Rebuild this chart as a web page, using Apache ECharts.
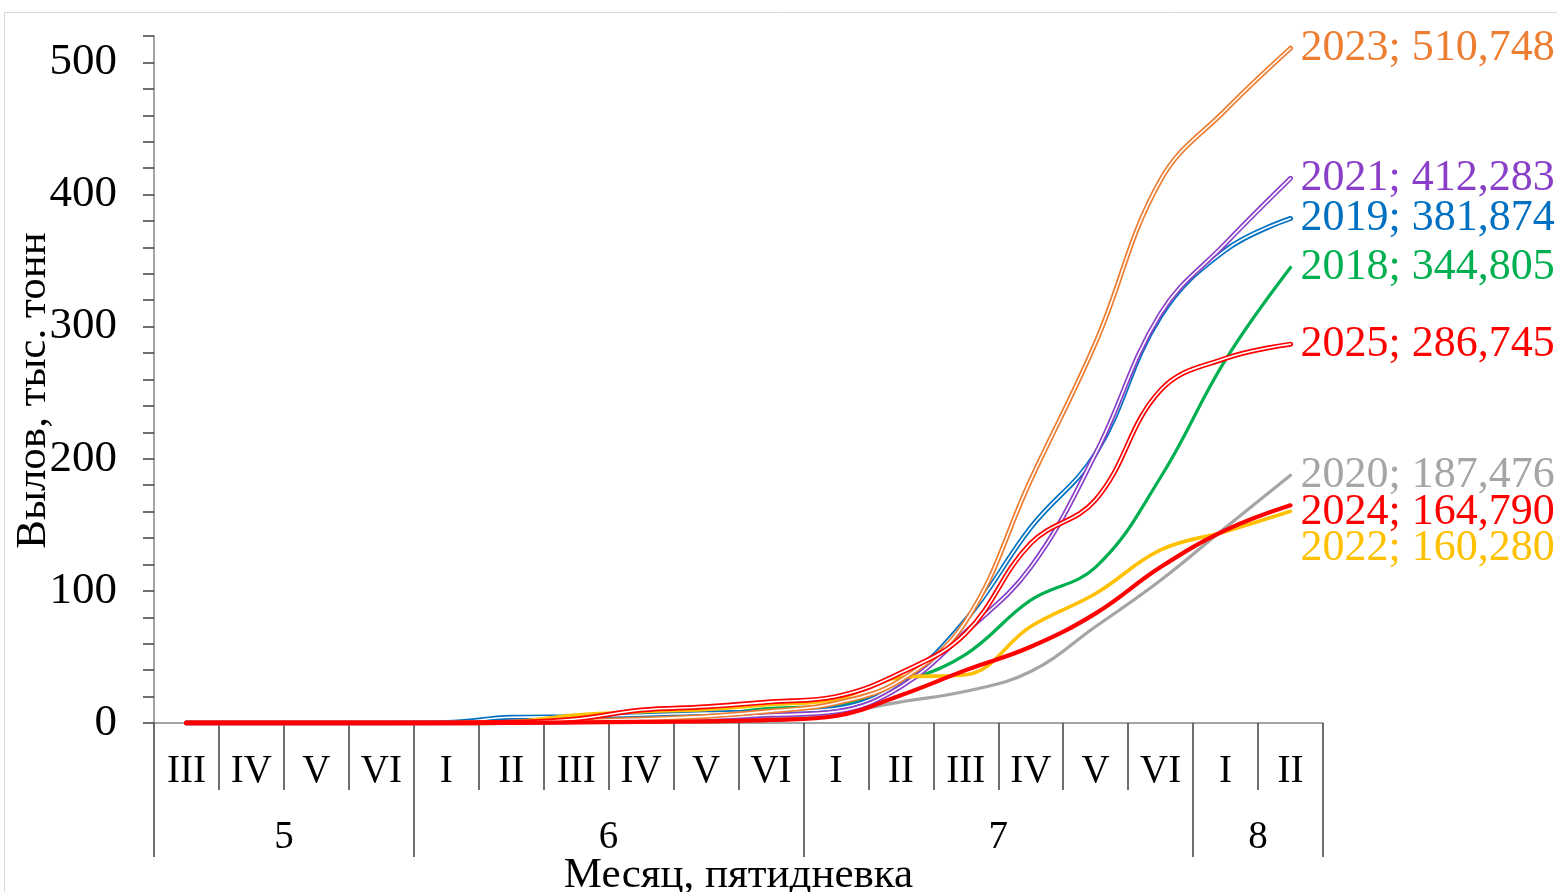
<!DOCTYPE html>
<html>
<head>
<meta charset="utf-8">
<script src="https://cdn.jsdelivr.net/npm/echarts@6/dist/echarts.min.js"></script>
<style>
html,body{margin:0;padding:0;background:#fff;}
#chart{width:1557px;height:892px;}
</style>
</head>
<body>
<div id="chart"></div>
<script>
// ---- data ----
const categories = ['III','IV','V','VI','I','II','III','IV','V','VI','I','II','III','IV','V','VI','I','II'];
const months = ['5','6','7','8'];
const monthSpans = [4, 6, 6, 2];
const yTickValues = [0, 100, 200, 300, 400, 500];

const y2018 = [0, 0, 0, 0, 0, 0.5, 1.5, 3.5, 6, 11, 13.6, 30, 52, 93, 118, 186, 275, 344.805];
const y2019 = [0, 0, 0, 0, 0.3, 4.3, 4.8, 6, 7.5, 8.6, 11, 31, 78, 148, 204, 308, 358, 381.874];
const y2020 = [0, 0, 0, 0, 0, 0.3, 0.8, 1.5, 2.5, 4, 7.3, 16, 24, 39, 73, 108, 148, 187.476];
const y2021 = [0, 0, 0, 0, 0, 0.3, 1, 2, 3.5, 6, 8.6, 27.5, 69, 118, 204, 310, 363, 412.283];
const y2022 = [0, 0, 0, 0, 0, 1, 6, 8.6, 10.3, 14, 18, 34.5, 36.5, 73, 98, 131, 145, 160.280];
const y2023 = [0, 0, 0, 0, 0, 0.5, 1.5, 3, 5, 9, 15, 32.5, 77, 184, 288, 411, 464, 510.748];
const y2024 = [0, 0, 0, 0, 0, 0.2, 0.5, 0.8, 1.2, 2.3, 5.3, 21, 40, 57.7, 83, 118, 146, 164.790];
const y2025 = [0, 0, 0, 0, 0, 0.5, 3, 9.8, 12.3, 16, 20, 38, 68, 136, 169, 252, 276, 286.745];

// ---- styling ----
const FONT = "'Liberation Serif','Times New Roman',serif";
const seriesDefs = [
  {name:'2018', data:y2018, color:'#00B050', width:3.2, double:false},
  {name:'2019', data:y2019, color:'#0070C0', width:5, double:true},
  {name:'2020', data:y2020, color:'#A5A5A5', width:3.2, double:false},
  {name:'2021', data:y2021, color:'#8A3FC8', width:5, double:true},
  {name:'2022', data:y2022, color:'#FFC000', width:3.6, double:false, offset:[0,37]},
  {name:'2023', data:y2023, color:'#ED7D31', width:5, double:true},
  {name:'2025', data:y2025, color:'#FF0000', width:5, double:true},
  {name:'2024', data:y2024, color:'#FF0000', width:4.2, double:false, offset:[0,7]}
];

function fmt(v){ return v.toFixed(3).replace('.', ','); }

const series = [];
seriesDefs.forEach(d => {
  series.push({
    name: d.name, type:'line', data:d.data, smooth:0.4, symbol:'none',
    lineStyle:{color:d.color, width:d.width, cap:'round', join:'round'},
    itemStyle:{color:d.color},
    endLabel:{
      show:true, distance:10, offset:d.offset || [0,0],
      formatter: p => p.seriesName + '; ' + fmt(p.value),
      color:d.color, fontFamily:FONT, fontSize:44
    },
    emphasis:{disabled:true}, animation:false
  });
  if (d.double) {
    series.push({
      name: d.name + '_inner', type:'line', data:d.data, smooth:0.4, symbol:'none',
      lineStyle:{color:'#ffffff', width:1.6, cap:'round', join:'round'},
      emphasis:{disabled:true}, animation:false, silent:true
    });
  }
});

// month axis (boundaries)
const nB = categories.length + 1;
const monthAxisData = new Array(nB).fill('');
const monthTickSet = new Set([0]);
let pos = 0;
months.forEach((m, i) => {
  monthAxisData[pos + monthSpans[i] / 2] = m;
  pos += monthSpans[i];
  monthTickSet.add(pos);
});
const boundaryIdx = monthAxisData.map((_, i) => String(i));

const chart = echarts.init(document.getElementById('chart'), null, {renderer:'canvas'});
chart.setOption({
  animation:false,
  backgroundColor:'#fff',
  textStyle:{fontFamily:FONT},
  graphic:[{
    type:'rect', left:2, top:10, shape:{width:1700, height:1000},
    style:{fill:'none', stroke:'#d9d9d9', lineWidth:1}, z:-10, silent:true
  }],
  grid:{left:154, right:234, top:36, bottom:169, containLabel:false, outerBoundsMode:'none'},
  xAxis:[{
    type:'category', data:categories, boundaryGap:true,
    axisLine:{show:true, lineStyle:{color:'#868686', width:1.5}},
    axisTick:{show:true, length:67, interval:0, lineStyle:{color:'#404040', width:1.5}},
    axisLabel:{interval:0, margin:29, fontSize:39, color:'#000', fontFamily:FONT},
    name:'Месяц, пятидневка', nameLocation:'middle', nameGap:131, nameMoveOverlap:false,
    nameTextStyle:{fontSize:43, color:'#000', fontFamily:FONT}
  },{
    type:'category', data:boundaryIdx, boundaryGap:false, position:'bottom',
    axisLine:{show:false},
    axisTick:{show:true, length:134, interval:(i) => monthTickSet.has(i), lineStyle:{color:'#404040', width:1.5}},
    axisLabel:{interval:0, margin:95, fontSize:39, color:'#000', fontFamily:FONT,
      formatter:(v, i) => monthAxisData[i]}
  }],
  yAxis:{
    type:'value', min:0, max:520, interval:20,
    splitLine:{show:false},
    axisLine:{show:true, lineStyle:{color:'#868686', width:1.5}},
    axisTick:{show:true, length:11, lineStyle:{color:'#404040', width:1.5}},
    axisLabel:{margin:37, fontSize:45, color:'#000', fontFamily:FONT,
      formatter:v => yTickValues.includes(v) ? String(v) : ''},
    name:'Вылов, тыс. тонн', nameLocation:'middle', nameGap:99, nameMoveOverlap:false,
    nameTextStyle:{fontSize:43, color:'#000', fontFamily:FONT, padding:[0, 22, 0, 0]}
  },
  series:series
});
</script>
</body>
</html>
